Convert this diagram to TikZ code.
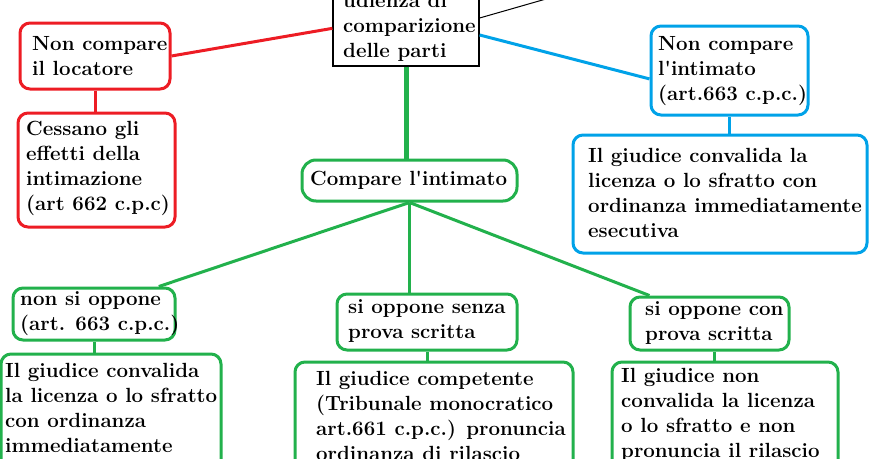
\documentclass[tikz,border=0pt]{standalone}
\definecolor{pred}{HTML}{ED1C24}
\definecolor{pblue}{HTML}{00A2E8}
\definecolor{pgreen}{HTML}{22B14C}
\newcommand\fl{\rule{0pt}{16pt}}
\begin{document}
\begin{tikzpicture}[x=1pt,y=-1pt,
  box/.style={draw, rounded corners=10pt, line width=3pt, inner sep=0pt},
  rbox/.style={box, draw=pred},
  bbox/.style={box, draw=pblue},
  gbox/.style={box, draw=pgreen},
  txt/.style={font=\fontsize{20.5}{25}\selectfont\bfseries, align=left, inner sep=0pt, anchor=north west},
  conn/.style={line width=3pt}
]
\useasboundingbox (0,0) rectangle (872,458);
\clip (0,0) rectangle (872,458);
% boxes
\node[draw, line width=1.2pt, inner sep=0pt, minimum width=146pt, minimum height=96pt] (topbox) at (406,18) {};
\node[rbox, minimum width=150pt, minimum height=66pt] (redA) at (95,56) {};
\node[rbox, minimum width=157pt, minimum height=114pt] (redB) at (96.5,170) {};
\node[gbox, rounded corners=14pt, minimum width=215pt, minimum height=41pt] (comp) at (409.5,180.5) {};
\node[bbox, minimum width=157pt, minimum height=89pt] (blueA) at (729.5,70.5) {};
\node[bbox, minimum width=294pt, minimum height=118pt] (blueB) at (720,194) {};
\node[gbox, minimum width=162pt, minimum height=52pt] (greenA) at (94,314) {};
\node[gbox, minimum width=220pt, minimum height=166pt] (greenB) at (111,437) {};
\node[gbox, minimum width=180pt, minimum height=56pt] (midA) at (427,322) {};
\node[gbox, minimum width=278pt, minimum height=158pt] (midB) at (434,441) {};
\node[gbox, minimum width=159pt, minimum height=53pt] (rightA) at (709.5,323.5) {};
\node[gbox, minimum width=226pt, minimum height=158pt] (rightB) at (725,441) {};
\coordinate (blk) at (560,-5);
% connectors
\draw[line width=1pt] (topbox.0.8) -- (blk);
\draw[conn, pred] (topbox.188.6) -- (redA.east);
\draw[conn, pred] (redA.south) -- (redA.south |- redB.north);
\draw[conn, pblue] (topbox.347.6) -- (blueA.186.2);
\draw[conn, pblue] (blueA.south) -- (blueA.south |- blueB.north);
\draw[line width=5pt, pgreen] (topbox.south) -- (topbox.south |- comp.north);
\draw[conn, pgreen] (comp.south) -- (greenA.23.8);
\draw[conn, pgreen] (comp.south) -- (comp.south |- midA.north);
\draw[conn, pgreen] (comp.south) -- (rightA.155.3);
\draw[conn, pgreen] (greenA.south) -- (greenA.south |- greenB.north);
\draw[conn, pgreen] (midA.south) -- (midA.south |- midB.north);
\draw[conn, pgreen] ([xshift=4.5pt]rightA.south) -- ([xshift=4.5pt]rightA.south |- rightB.north);
% texts
\node[txt] (tTop) at (343,-9) {\fl udienza di\\comparizione\\delle parti};
\node[txt] (tRA) at (32,34) {\fl Non compare\\il locatore};
\node[txt] (tRB) at (26,119) {\fl Cessano gli\\effetti della\\intimazione\\(art 662 c.p.c)};
\node[txt] (tComp) at (310,169) {\fl Compare l\textquotesingle intimato};
\node[txt] (tBA) at (658,34) {\fl Non compare\\l\textquotesingle intimato\\(art.663 c.p.c.)};
\node[txt] (tBB) at (588,146) {\fl Il giudice convalida la\\licenza o lo sfratto con\\ordinanza immediatamente\\esecutiva};
\node[txt] (tGA) at (20,289) {\fl non si oppone\\(art. 663 c.p.c.)};
\node[txt] (tGB) at (5,361) {\fl Il giudice convalida\\la licenza o lo sfratto\\con ordinanza\\immediatamente};
\node[txt] (tMA) at (348,297) {\fl si oppone senza\\prova scritta};
\node[txt] (tMB) at (316,369) {\fl Il giudice competente\\(Tribunale monocratico\\art.661 c.p.c.) pronuncia\\ordinanza di rilascio};
\node[txt] (tRtA) at (645,299) {\fl si oppone con\\prova scritta};
\node[txt] (tRtB) at (621,366) {\fl Il giudice non\\convalida la licenza\\o lo sfratto e non\\pronuncia il rilascio};
\end{tikzpicture}
\end{document}
